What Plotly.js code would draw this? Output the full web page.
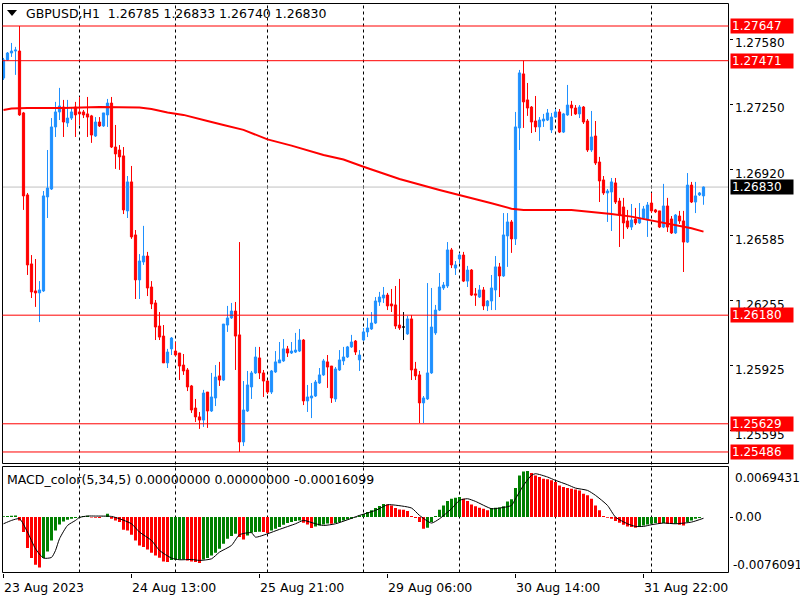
<!DOCTYPE html>
<html><head><meta charset="utf-8">
<script src="https://cdn.plot.ly/plotly-3.0.1.min.js"></script>
<style>html,body{margin:0;padding:0;background:#fff}#chart{width:800px;height:600px}</style>
</head><body><div id="chart"></div>
<script>
// ---- data (H1 GBPUSD, bar index 0 = 23 Aug 2023 05:00) ----
const openP = [
1.27383,1.27475,1.27510,1.27520,1.27520,1.27206,1.26790,1.26440,1.26303,1.26293,
1.26303,1.26780,1.26820,1.27135,1.27211,1.27236,1.27155,1.27180,1.27236,1.27211,
1.27211,1.27201,1.27191,1.27089,1.27160,1.27140,1.27196,1.27256,1.27033,1.27018,
1.26988,1.26709,1.26856,1.26587,1.26359,1.26450,1.26480,1.26323,1.26242,1.26125,
1.26074,1.25938,1.26009,1.25998,1.25988,1.25927,1.25902,1.25821,1.25709,1.25664,
1.25648,1.25790,1.25694,1.25760,1.25872,1.25851,1.26130,1.26166,1.26201,1.26080,
1.25537,1.25694,1.25816,1.25887,1.25963,1.25887,1.25846,1.25790,1.25892,1.25938,
1.25948,1.26009,1.25988,1.25993,1.25998,1.26054,1.25745,1.25760,1.25770,1.25836,
1.25877,1.25943,1.25922,1.25755,1.25902,1.25948,1.25968,1.26019,1.26049,1.25953,
1.26054,1.26095,1.26110,1.26140,1.26247,1.26267,1.26282,1.26237,1.26232,1.26130,
1.26120,1.26085,1.26161,1.25907,1.25877,1.25735,1.25755,1.25887,1.26090,1.26206,
1.26318,1.26328,1.26511,1.26419,1.26465,1.26485,1.26353,1.26409,1.26288,1.26272,
1.26308,1.26227,1.26252,1.26308,1.26425,1.26379,1.26582,1.26653,1.26567,1.27130,
1.27404,1.27272,1.27236,1.27165,1.27135,1.27165,1.27170,1.27120,1.27185,1.27211,
1.27109,1.27196,1.27246,1.27231,1.27201,1.27236,1.27165,1.27018,1.27089,1.26957,
1.26866,1.26800,1.26805,1.26851,1.26759,1.26729,1.26658,1.26627,1.26668,1.26648,
1.26673,1.26663,1.26749,1.26714,1.26709,1.26627,1.26734,1.26668,1.26597,1.26683,
1.26658,1.26551,1.26840,1.26754,1.26790,1.26785];
const highP = [
1.27485,1.27515,1.27561,1.27541,1.27647,1.27211,1.26800,1.26485,1.26465,1.26353,
1.26810,1.27018,1.27180,1.27262,1.27333,1.27272,1.27272,1.27231,1.27262,1.27287,
1.27221,1.27287,1.27196,1.27185,1.27185,1.27206,1.27277,1.27287,1.27145,1.27043,
1.27033,1.26886,1.26937,1.26612,1.26490,1.26633,1.26501,1.26353,1.26257,1.26196,
1.26130,1.26009,1.26069,1.26044,1.25988,1.25983,1.25912,1.25826,1.25755,1.25689,
1.25801,1.25790,1.25887,1.25927,1.25943,1.26135,1.26227,1.26242,1.26247,1.26551,
1.25846,1.25897,1.25897,1.26019,1.26019,1.25902,1.25851,1.25902,1.25998,1.26044,
1.26059,1.26024,1.26044,1.26090,1.26110,1.26059,1.25826,1.25836,1.25851,1.25912,
1.25958,1.25978,1.25922,1.25917,1.26003,1.26019,1.26024,1.26080,1.26054,1.26003,
1.26115,1.26166,1.26196,1.26272,1.26298,1.26323,1.26293,1.26313,1.26328,1.26364,
1.26196,1.26176,1.26181,1.25943,1.25897,1.25770,1.26343,1.26318,1.26232,1.26394,
1.26348,1.26551,1.26521,1.26455,1.26496,1.26501,1.26430,1.26414,1.26318,1.26333,
1.26323,1.26257,1.26384,1.26480,1.26445,1.26698,1.26698,1.26663,1.27211,1.27424,
1.27471,1.27358,1.27241,1.27292,1.27185,1.27201,1.27226,1.27206,1.27226,1.27226,
1.27206,1.27348,1.27267,1.27246,1.27246,1.27241,1.27175,1.27216,1.27165,1.26983,
1.26886,1.26820,1.26876,1.26876,1.26775,1.26775,1.26714,1.26744,1.26724,1.26749,
1.26734,1.26754,1.26800,1.26719,1.26709,1.26846,1.26775,1.26683,1.26693,1.26709,
1.26709,1.26901,1.26856,1.26856,1.26805,1.26833];
const lowP = [
1.27373,1.27470,1.27490,1.27399,1.27191,1.26714,1.26384,1.26267,1.26222,1.26145,
1.26298,1.26673,1.26815,1.27084,1.27170,1.27084,1.27135,1.27170,1.27084,1.27145,
1.27180,1.27084,1.27054,1.27084,1.27135,1.27135,1.27135,1.27028,1.26922,1.26917,
1.26693,1.26673,1.26567,1.26262,1.26262,1.26435,1.26277,1.26211,1.26054,1.26054,
1.25938,1.25912,1.25978,1.25973,1.25851,1.25877,1.25795,1.25684,1.25638,1.25603,
1.25613,1.25608,1.25689,1.25719,1.25821,1.25846,1.26095,1.26161,1.25902,1.25486,
1.25516,1.25689,1.25755,1.25882,1.25856,1.25765,1.25780,1.25780,1.25887,1.25938,
1.25943,1.25968,1.25983,1.25988,1.25993,1.25724,1.25689,1.25658,1.25765,1.25831,
1.25872,1.25811,1.25735,1.25740,1.25897,1.25927,1.25963,1.26014,1.25978,1.25897,
1.26049,1.26069,1.26105,1.26135,1.26227,1.26242,1.26206,1.26196,1.26110,1.26105,
1.26054,1.26080,1.25851,1.25851,1.25633,1.25633,1.25750,1.25882,1.26080,1.26201,
1.26308,1.26318,1.26419,1.26384,1.26445,1.26348,1.26323,1.26277,1.26227,1.26267,
1.26206,1.26201,1.26206,1.26206,1.26272,1.26374,1.26425,1.26496,1.26536,1.27018,
1.27130,1.27191,1.27104,1.27109,1.27064,1.27135,1.27165,1.27104,1.27180,1.27104,
1.27104,1.27191,1.27191,1.27196,1.27180,1.27150,1.27008,1.27008,1.26942,1.26754,
1.26790,1.26653,1.26607,1.26744,1.26526,1.26567,1.26617,1.26612,1.26638,1.26643,
1.26668,1.26577,1.26698,1.26698,1.26622,1.26622,1.26602,1.26592,1.26592,1.26643,
1.26399,1.26546,1.26749,1.26698,1.26785,1.26740];
const closeP = [
1.27475,1.27510,1.27520,1.27525,1.27196,1.26785,1.26435,1.26298,1.26293,1.26308,
1.26785,1.26825,1.27135,1.27211,1.27241,1.27160,1.27180,1.27211,1.27196,1.27201,
1.27196,1.27185,1.27094,1.27160,1.27140,1.27206,1.27256,1.27033,1.26998,1.26983,
1.26714,1.26856,1.26577,1.26359,1.26455,1.26480,1.26318,1.26237,1.26120,1.26069,
1.25938,1.25993,1.26064,1.25978,1.25922,1.25897,1.25816,1.25699,1.25664,1.25648,
1.25785,1.25694,1.25765,1.25866,1.25851,1.26135,1.26166,1.26201,1.26074,1.25537,
1.25699,1.25826,1.25887,1.25968,1.25887,1.25846,1.25790,1.25897,1.25943,1.25953,
1.26009,1.25988,1.25998,1.26003,1.26054,1.25745,1.25765,1.25770,1.25841,1.25877,
1.25948,1.25917,1.25760,1.25907,1.25953,1.25968,1.26019,1.26044,1.25993,1.25978,
1.26095,1.26115,1.26140,1.26252,1.26272,1.26282,1.26227,1.26227,1.26125,1.26115,
1.26120,1.26161,1.25902,1.25872,1.25735,1.25760,1.25887,1.26120,1.26206,1.26323,
1.26333,1.26511,1.26435,1.26435,1.26485,1.26353,1.26409,1.26282,1.26282,1.26308,
1.26227,1.26252,1.26318,1.26425,1.26379,1.26587,1.26653,1.26567,1.27135,1.27409,
1.27262,1.27231,1.27160,1.27135,1.27170,1.27175,1.27206,1.27185,1.27211,1.27109,
1.27201,1.27246,1.27231,1.27201,1.27236,1.27160,1.27018,1.27084,1.26952,1.26861,
1.26800,1.26810,1.26856,1.26754,1.26688,1.26648,1.26627,1.26663,1.26648,1.26673,
1.26719,1.26739,1.26709,1.26704,1.26627,1.26734,1.26627,1.26597,1.26688,1.26658,
1.26551,1.26840,1.26754,1.26785,1.26800,1.26830];

// moving average (read at sampled bars)
const maIdx = [0,2,6,15,24,34,37,41,45,48,51,55,60,66,72,80,85,90,99,109,114,122,127,130,142,147,152,157,162,167,172,175];
const maVal = [1.27221,1.27228,1.27231,1.27231,1.27236,1.27233,1.27226,1.27208,1.27196,1.27182,1.27165,1.27145,1.27120,1.27072,1.27040,1.26993,1.26970,1.26933,1.26871,1.26815,1.26790,1.26748,1.26720,1.26714,1.26714,1.26704,1.26693,1.26680,1.26660,1.26643,1.26621,1.26604];

// MACD_color(5,34,5) histogram per bar
const macdHist = [
0.00010,0.00014,0.00018,0.00022,-0.00046,-0.00206,-0.00426,-0.00563,-0.00655,-0.00692,
-0.00563,-0.00472,-0.00321,-0.00183,-0.00101,-0.00060,-0.00037,-0.00023,-0.00014,-0.00005,
0.00014,0.00018,-0.00005,-0.00009,-0.00014,0.00005,0.00046,-0.00023,-0.00046,-0.00069,
-0.00174,-0.00183,-0.00243,-0.00321,-0.00389,-0.00412,-0.00444,-0.00490,-0.00527,-0.00559,
-0.00609,-0.00618,-0.00590,-0.00586,-0.00582,-0.00580,-0.00595,-0.00609,-0.00618,-0.00632,
-0.00582,-0.00563,-0.00527,-0.00490,-0.00435,-0.00366,-0.00298,-0.00261,-0.00229,-0.00275,
-0.00307,-0.00252,-0.00215,-0.00206,-0.00200,-0.00206,-0.00220,-0.00183,-0.00160,-0.00137,
-0.00105,-0.00082,-0.00069,-0.00055,-0.00046,-0.00078,-0.00101,-0.00151,-0.00128,-0.00115,
-0.00101,-0.00087,-0.00092,-0.00082,-0.00069,-0.00046,-0.00032,-0.00023,-0.00005,0.00023,
0.00041,0.00069,0.00092,0.00124,0.00151,0.00178,0.00174,0.00160,0.00124,0.00105,
0.00101,0.00082,0.00014,-0.00014,-0.00069,-0.00160,-0.00147,-0.00069,0.00014,0.00101,
0.00160,0.00220,0.00252,0.00266,0.00275,0.00252,0.00220,0.00174,0.00147,0.00128,
0.00115,0.00092,0.00124,0.00128,0.00133,0.00147,0.00215,0.00243,0.00398,0.00572,
0.00627,0.00632,0.00604,0.00572,0.00550,0.00527,0.00518,0.00504,0.00481,0.00435,
0.00412,0.00398,0.00389,0.00380,0.00366,0.00321,0.00298,0.00252,0.00160,0.00092,
0.00014,-0.00009,-0.00023,-0.00055,-0.00078,-0.00105,-0.00128,-0.00137,-0.00147,-0.00137,
-0.00115,-0.00101,-0.00092,-0.00082,-0.00092,-0.00082,-0.00092,-0.00096,-0.00092,-0.00105,
-0.00115,-0.00069,-0.00046,-0.00023,-0.00014,0];
// signal line (read at sampled bars)
const sigIdx = [0,2,4,6,8,10,12,13,14,16,18,19,21,23,27,29,32,34,37,39,42,44,47,49,52,54,57,59,62,63,66,69,73,75,78,80,83,86,89,93,96,97,102,104,107,109,112,114,116,118,122,124,127,128,130,132,133,136,138,141,143,146,148,151,153,156,158,160,162,165,168,172,175];
const sigVal = [-0.00092,-0.00046,-0.00023,-0.00206,-0.00435,-0.00563,-0.00554,-0.00458,-0.00298,-0.00115,-0.00046,-0.00005,0.00014,0.00014,0.00009,-0.00023,-0.00092,-0.00206,-0.00321,-0.00458,-0.00563,-0.00586,-0.00582,-0.00595,-0.00573,-0.00481,-0.00389,-0.00243,-0.00215,-0.00275,-0.00229,-0.00169,-0.00092,-0.00046,-0.00092,-0.00115,-0.00092,-0.00037,0.00023,0.00092,0.00169,0.00169,0.00124,0.00023,-0.00082,-0.00023,0.00115,0.00229,0.00252,0.00215,0.00115,0.00124,0.00160,0.00252,0.00435,0.00573,0.00595,0.00550,0.00504,0.00444,0.00398,0.00366,0.00298,0.00160,0,-0.00092,-0.00128,-0.00128,-0.00105,-0.00082,-0.00092,-0.00069,-0.00016099];

const tickIdx = [0,32,64,96,128,160];
const tickText = ['23 Aug 2023','24 Aug 13:00','25 Aug 21:00','29 Aug 06:00','30 Aug 14:00','31 Aug 22:00'];
const dayIdx = [19,43,66,90,114,138,162];
const levels = [1.27647,1.27471,1.26180,1.25629,1.25486];
const bidPrice = 1.26830;
const priceTicks = [1.27580,1.27250,1.26920,1.26585,1.26255,1.25925,1.25595];
const macdMax = 0.0069431, macdMin = -0.0076091;
const symbolTitle = 'GBPUSD,H1';
const lastOHLC = ['1.26785','1.26833','1.26740','1.26830'];
const macdTitle = 'MACD_color(5,34,5) 0.00000000 0.00000000 -0.00016099';

// ---- build ----
const W = 800, H = 600;
const FONT = 'DejaVu Sans';
const FS = 12.5, FSA = 12;
const BLUE = '#1E90FF', RED = '#FF0000', GREEN = '#008000';
const px = v => v / W, py = v => 1 - v / H;
const L = 2.5, R = 728.5, T1 = 3.5, B1 = 463.5, T2 = 466.5, B2 = 572.5;

const idx = openP.map((_, i) => i);
const norm = idx.filter(i => openP[i] !== closeP[i]);
const doji = idx.filter(i => openP[i] === closeP[i]);
const pick = (arr, ids) => ids.map(i => arr[i]);

const candle = {
  type: 'candlestick', xaxis: 'x', yaxis: 'y',
  x: norm, open: pick(openP, norm), high: pick(highP, norm), low: pick(lowP, norm), close: pick(closeP, norm),
  increasing: {line: {color: BLUE, width: 1}, fillcolor: BLUE},
  decreasing: {line: {color: RED, width: 1}, fillcolor: RED},
  whiskerwidth: 0, hoverinfo: 'skip'
};
const candleDoji = {
  type: 'candlestick', xaxis: 'x', yaxis: 'y',
  x: doji, open: pick(openP, doji), high: pick(highP, doji), low: pick(lowP, doji), close: pick(closeP, doji),
  increasing: {line: {color: '#000', width: 1}, fillcolor: '#000'},
  decreasing: {line: {color: '#000', width: 1}, fillcolor: '#000'},
  whiskerwidth: 0, hoverinfo: 'skip'
};
const ma = {type: 'scatter', mode: 'lines', xaxis: 'x', yaxis: 'y', x: maIdx, y: maVal,
  line: {color: RED, width: 2}, hoverinfo: 'skip'};

const histColors = [];
macdHist.forEach((v, i) => {
  if (i === 0) histColors.push(GREEN);
  else if (v > macdHist[i-1]) histColors.push(GREEN);
  else if (v < macdHist[i-1]) histColors.push(RED);
  else histColors.push(histColors[i-1]);
});
const hist = {type: 'bar', xaxis: 'x2', yaxis: 'y2', x: idx, y: macdHist, width: 0.75,
  marker: {color: histColors, line: {width: 0}}, hoverinfo: 'skip'};
const sig = {type: 'scatter', mode: 'lines', xaxis: 'x2', yaxis: 'y2', x: sigIdx, y: sigVal,
  line: {color: '#000', width: 1, shape: 'spline', smoothing: 0.6}, hoverinfo: 'skip'};

const xRange = [(L - 3.5) / 4, (R - 3.5) / 4];
const pr = y => 1.27647 - (y - 26) * 0.00005073; // price scale calibration of the frame edges
const shapes = [];
dayIdx.forEach(d => shapes.push({type: 'line', xref: 'x', yref: 'paper', x0: d, x1: d, y0: py(B2), y1: py(T1),
  line: {color: '#000', width: 1, dash: '3px,3px'}, layer: 'below'}));
shapes.push({type: 'rect', xref: 'paper', yref: 'paper', x0: px(L), x1: px(R), y0: py(B1), y1: py(T1), line: {color: '#000', width: 1}});
shapes.push({type: 'rect', xref: 'paper', yref: 'paper', x0: px(L), x1: px(R), y0: py(B2), y1: py(T2), line: {color: '#000', width: 1}});
shapes.push({type: 'line', xref: 'paper', yref: 'y', x0: px(L), x1: px(R), y0: bidPrice, y1: bidPrice, line: {color: '#C0C0C0', width: 1}, layer: 'below'});
levels.forEach(v => shapes.push({type: 'line', xref: 'paper', yref: 'y', x0: px(L), x1: px(R), y0: v, y1: v, line: {color: RED, width: 1}}));
shapes.push({type: 'path', xref: 'paper', yref: 'paper',
  path: `M ${px(7)} ${py(10)} L ${px(17)} ${py(10)} L ${px(12)} ${py(16)} Z`, fillcolor: '#000', line: {width: 0}});

const ann = [];
ann.push({xref: 'paper', yref: 'paper', x: px(24), y: py(14), xanchor: 'left', yanchor: 'middle', showarrow: false,
  text: symbolTitle + '\u00a0\u00a0' + lastOHLC.join(' '), font: {family: FONT, size: FS, color: '#000'}});
ann.push({xref: 'paper', yref: 'paper', x: px(5), y: py(479), xanchor: 'left', yanchor: 'middle', showarrow: false,
  text: macdTitle, font: {family: FONT, size: FS, color: '#000'}});
levels.forEach(v => ann.push({xref: 'paper', yref: 'y', x: px(729.5), y: v, xanchor: 'left', yanchor: 'middle', showarrow: false,
  text: v.toFixed(5), bgcolor: RED, width: 60, height: 12, align: 'left', borderpad: 1,
  font: {family: FONT, size: FSA, color: '#fff'}}));
ann.push({xref: 'paper', yref: 'y', x: px(729.5), y: bidPrice, xanchor: 'left', yanchor: 'middle', showarrow: false,
  text: bidPrice.toFixed(5), bgcolor: '#000', width: 60, height: 12, align: 'left', borderpad: 1,
  font: {family: FONT, size: FSA, color: '#fff'}});
ann.push({xref: 'paper', yref: 'paper', x: px(733), y: py(478), xanchor: 'left', yanchor: 'middle', showarrow: false,
  text: macdMax.toFixed(7), font: {family: FONT, size: FSA, color: '#000'}});
ann.push({xref: 'paper', yref: 'paper', x: px(731), y: py(565), xanchor: 'left', yanchor: 'middle', showarrow: false,
  text: macdMin.toFixed(7), font: {family: FONT, size: FSA, color: '#000'}});

const tickFont = {family: FONT, size: FSA, color: '#000'};
const layout = {
  width: W, height: H, margin: {l: 0, r: 0, t: 0, b: 0, pad: 0},
  paper_bgcolor: '#fff', plot_bgcolor: 'rgba(0,0,0,0)', showlegend: false,
  boxgap: 0.45, boxgroupgap: 0, barmode: 'overlay', hovermode: false,
  xaxis: {domain: [px(L), px(R)], range: xRange, anchor: 'y', showgrid: false, zeroline: false,
    showticklabels: false, ticks: '', showline: false, rangeslider: {visible: false}, fixedrange: true},
  xaxis2: {domain: [px(L), px(R)], range: xRange, anchor: 'y2', matches: 'x', showgrid: false, zeroline: false,
    showline: false, ticks: 'outside', ticklen: 4, tickcolor: '#000', tickwidth: 1, ticklabelstandoff: 3,
    tickvals: tickIdx, ticktext: tickText, ticklabelposition: 'outside right',
    tickfont: {family: FONT, size: FS, color: '#000'}, fixedrange: true},
  yaxis: {domain: [py(B1), py(T1)], range: [pr(B1), pr(T1)], anchor: 'x', side: 'right', showgrid: false, zeroline: false,
    showline: false, ticks: 'outside', ticklen: 3, tickcolor: '#000', tickvals: priceTicks,
    ticktext: priceTicks.map(v => v.toFixed(5)), tickfont: tickFont, ticklabelshift: 4, fixedrange: true},
  yaxis2: {domain: [py(B2), py(T2)], range: [macdMin, macdMax], anchor: 'x2', side: 'right', showgrid: false, zeroline: false,
    showline: false, ticks: 'outside', ticklen: 3, tickcolor: '#000', tickvals: [0], ticktext: ['0.00'], tickfont: tickFont, fixedrange: true},
  shapes: shapes, annotations: ann
};
Plotly.newPlot('chart', [hist, sig, candle, candleDoji, ma], layout, {displayModeBar: false, staticPlot: true});
</script></body></html>
